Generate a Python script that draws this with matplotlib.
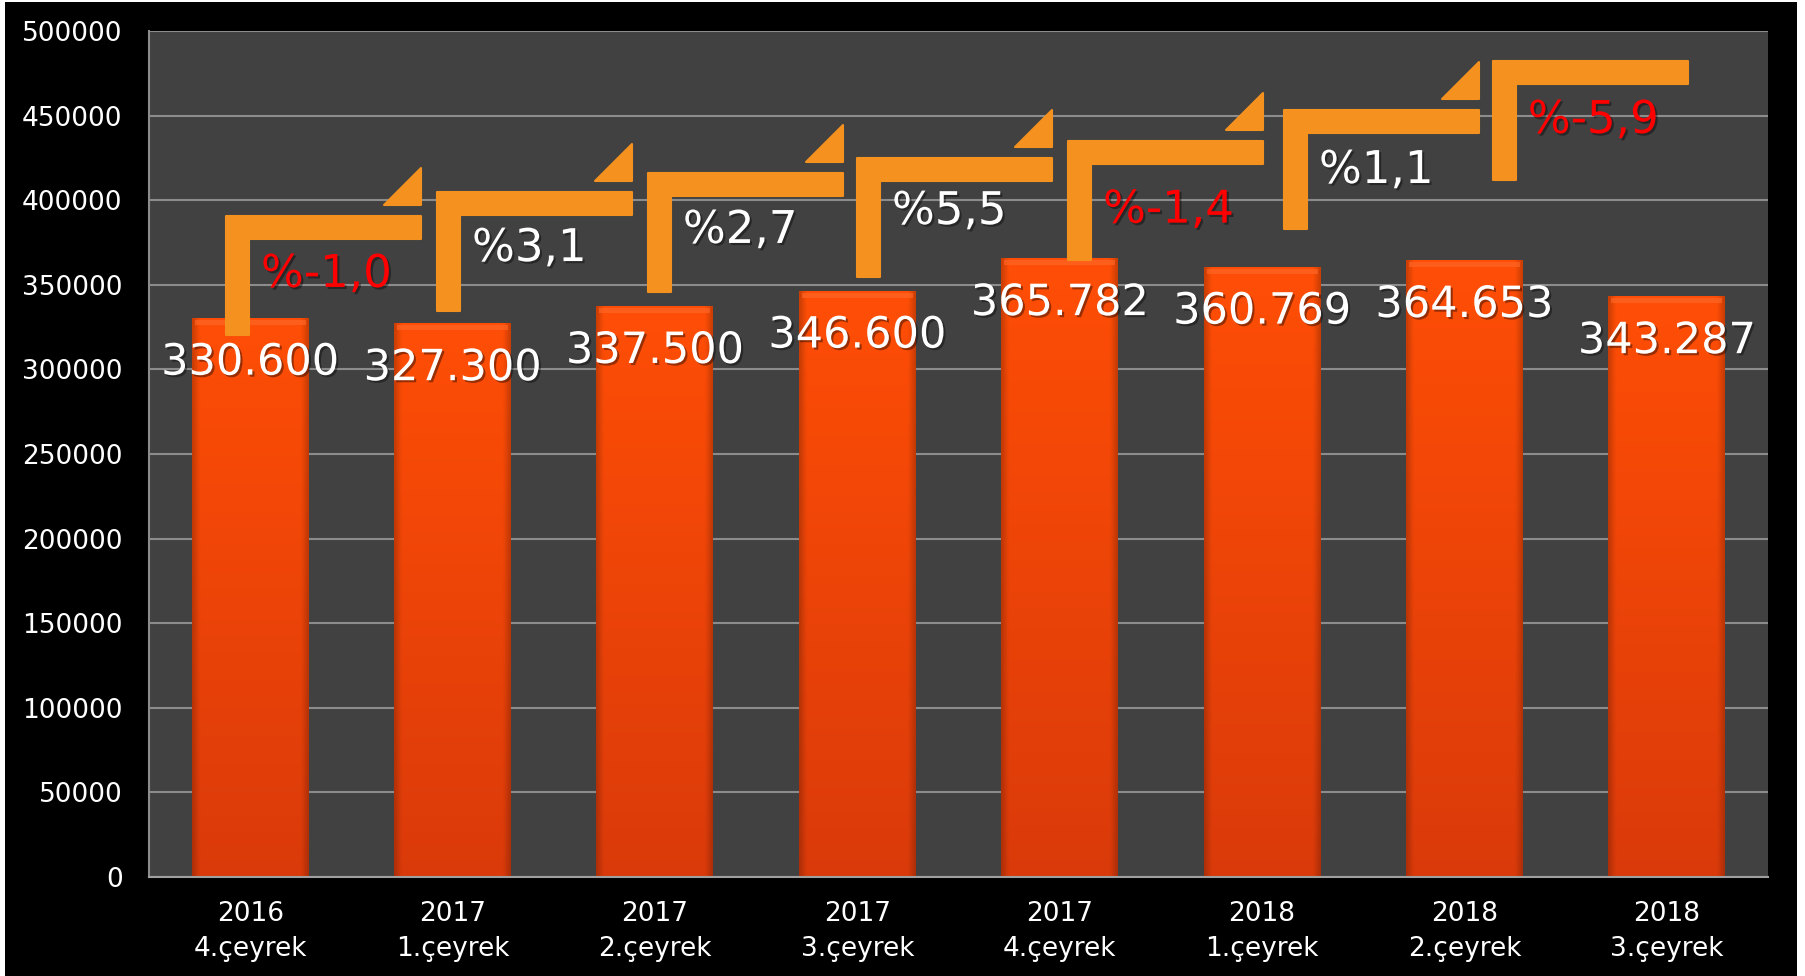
import numpy as np
import matplotlib
matplotlib.use("Agg")
import matplotlib.pyplot as plt
import matplotlib.patheffects as pe
from matplotlib.patches import Polygon, Rectangle

# ---------------- data ----------------
YEARS = ["2016", "2017", "2017", "2017", "2017", "2018", "2018", "2018"]
QUARTERS = ["4.çeyrek", "1.çeyrek", "2.çeyrek", "3.çeyrek", "4.çeyrek",
            "1.çeyrek", "2.çeyrek", "3.çeyrek"]
VALUES = [330600, 327300, 337500, 346600, 365782, 360769, 364653, 343287]
PCT_CHANGE = [-1.0, 3.1, 2.7, 5.5, -1.4, 1.1, -5.9]
Y_TICKS = list(range(0, 500001, 50000))

# ---------------- layout / style ----------------
ARROW_X0 = [-0.120, 0.923, 1.965, 2.998, 4.041, 5.108, 6.140]   # stem left (category units)
ARROW_TOP = [390700, 404800, 416100, 424900, 435200, 453300, 482300]  # top of arrow bar
PCT_DY_PX = [31, 29, 30, 26, 42, 33, 32]
ARROW_COLOR = "#F5921F"

W, H, DPI = 1805, 976, 100
AX_L, AX_R, AX_T, AX_B = 149, 1768, 31, 877

fig = plt.figure(figsize=(W / DPI, H / DPI), dpi=DPI, facecolor="white")
fig.patches.append(Rectangle((5 / W, 0), (1797 - 5) / W, (H - 2) / H,
                             transform=fig.transFigure, facecolor="black",
                             edgecolor="none", zorder=-10))

ax = fig.add_axes([AX_L / W, 1 - AX_B / H, (AX_R - AX_L) / W, (AX_B - AX_T) / H])
ax.set_zorder(1)
ax.set_facecolor("#414141")
n = len(VALUES)
x = np.arange(n)

# px -> data conversions
px_x = n / (AX_R - AX_L)
px_y = 500000 / (AX_B - AX_T)

bars = ax.bar(x, VALUES, width=0.578, color="#FA4A06", edgecolor="none", zorder=2)

# gradient overlay for bars
gh, gw = 300, 60
t = np.linspace(0, 1, gh)[:, None]          # 0 top -> 1 bottom
top_c = np.array([255, 78, 6]) / 255
bot_c = np.array([218, 58, 10]) / 255
base = top_c[None, None, :] * (1 - t[..., None]) + bot_c[None, None, :] * t[..., None]
base = np.repeat(base, gw, axis=1)
u = np.linspace(0, 1, gw)[None, :]
edge = np.clip(np.minimum(u, 1 - u) / 0.06, 0, 1)
shade = 0.8 + 0.2 * edge
img = base * shade[..., None]
img = np.clip(img, 0, 1)

for rect, v in zip(bars, VALUES):
    x0 = rect.get_x()
    x1 = x0 + rect.get_width()
    im = ax.imshow(img, extent=[x0, x1, 0, v], aspect="auto", zorder=2.1,
                   interpolation="bilinear")
    im.set_clip_path(rect)
    # top bevel highlight
    ax.add_patch(Rectangle((x0 + 3 * px_x, v - 7 * px_y), (x1 - x0) - 6 * px_x, 5 * px_y,
                           facecolor="#FF6A2A", edgecolor="none", alpha=0.6, zorder=2.2))

ax.set_xlim(-0.5, n - 0.5)
ax.set_ylim(0, 500000)

# axes styling
ax.set_yticks(Y_TICKS)
ax.set_yticklabels([str(v) for v in Y_TICKS])
ax.set_xticks(x)
ax.set_xticklabels([f"{y}\n{q}" for y, q in zip(YEARS, QUARTERS)])
for tl in ax.get_xticklabels():
    tl.set_linespacing(1.45)
ax.tick_params(axis="both", colors="white", length=0, labelsize=19)
ax.tick_params(axis="y", pad=19)
ax.tick_params(axis="x", pad=17)
ax.yaxis.grid(True, color="#8c8c8c", linewidth=1.5)
ax.set_axisbelow(True)
for s in ["top", "right"]:
    ax.spines[s].set_visible(False)
ax.spines["left"].set_color("#8c8c8c")
ax.spines["left"].set_linewidth(1.5)
ax.spines["bottom"].set_color("#a0a0a0")
ax.spines["bottom"].set_linewidth(1.5)

shadow = [pe.withSimplePatchShadow(offset=(1.5, -1.5), shadow_rgbFace="black", alpha=0.4)]

# value labels
for i, v in enumerate(VALUES):
    ax.annotate(f"{v:,}".replace(",", "."), xy=(i, v), xytext=(0, -45 * 0.72),
                textcoords="offset points", ha="center", va="center",
                fontsize=31, color="white", zorder=6, path_effects=shadow)

# bent arrows
T, L, AW, TRI, GAP = 23, 119, 195, 37, 11
for k, (sx, top) in enumerate(zip(ARROW_X0, ARROW_TOP)):
    bot = top - L * px_y
    pts = [(sx, bot), (sx, top), (sx + AW * px_x, top),
           (sx + AW * px_x, top - T * px_y), (sx + T * px_x, top - T * px_y),
           (sx + T * px_x, bot)]
    ax.add_patch(Polygon(pts, closed=True, facecolor=ARROW_COLOR, edgecolor=ARROW_COLOR,
                         linewidth=1.5, joinstyle="round", zorder=4))
    if k < len(ARROW_X0) - 1:
        r = sx + AW * px_x
        tb = top + GAP * px_y
        tri = [(r - TRI * px_x, tb), (r, tb), (r, tb + TRI * px_y)]
        ax.add_patch(Polygon(tri, closed=True, facecolor=ARROW_COLOR, edgecolor=ARROW_COLOR,
                             linewidth=1.5, joinstyle="round", zorder=4))
    p = PCT_CHANGE[k]
    label = ("%" + f"{p:.1f}").replace(".", ",")
    ax.annotate(label, xy=(sx + T * px_x, top - T * px_y),
                xytext=(12 * 0.72, -(PCT_DY_PX[k] + 4.5) * 0.72),
                textcoords="offset points", ha="left", va="center",
                fontsize=32.5, color="#FF0000" if p < 0 else "white",
                zorder=6, path_effects=shadow)

fig.savefig("out.png", dpi=DPI, facecolor=fig.get_facecolor())
